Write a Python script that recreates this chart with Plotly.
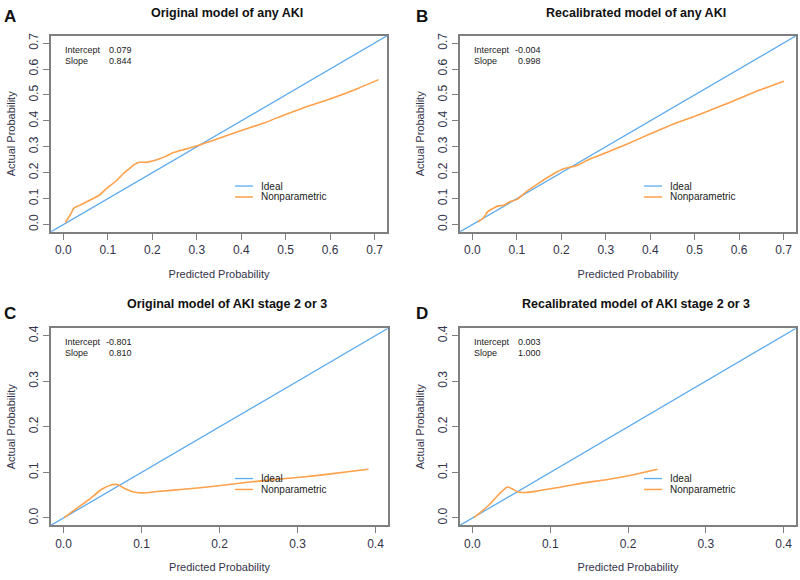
import plotly.graph_objects as go

# panel A: original model, any AKI
a_pred = [0.004, 0.015, 0.024, 0.037, 0.056, 0.082, 0.096, 0.119, 0.134, 0.148, 0.160, 0.171,
          0.186, 0.200, 0.215, 0.230, 0.245, 0.275, 0.301, 0.341, 0.397, 0.453, 0.497, 0.535,
          0.601, 0.661, 0.709]
a_act = [0.008, 0.036, 0.064, 0.074, 0.091, 0.115, 0.138, 0.169, 0.195, 0.215, 0.232, 0.240,
         0.240, 0.245, 0.253, 0.263, 0.276, 0.291, 0.304, 0.327, 0.361, 0.393, 0.423, 0.447,
         0.485, 0.524, 0.559]

# panel B: recalibrated model, any AKI
b_pred = [0.012, 0.025, 0.034, 0.048, 0.059, 0.070, 0.085, 0.100, 0.122, 0.152, 0.182, 0.205,
          0.234, 0.264, 0.302, 0.347, 0.399, 0.451, 0.511, 0.586, 0.645, 0.701]
b_act = [0.010, 0.026, 0.049, 0.064, 0.072, 0.074, 0.089, 0.097, 0.128, 0.163, 0.195, 0.215,
         0.227, 0.253, 0.278, 0.310, 0.349, 0.387, 0.425, 0.476, 0.518, 0.553]

# panel C: original model, AKI stage 2 or 3
c_pred = [0.001, 0.009, 0.021, 0.034, 0.049, 0.062, 0.070, 0.079, 0.090, 0.102, 0.120, 0.154,
          0.196, 0.239, 0.282, 0.324, 0.367, 0.391]
c_act = [0.001, 0.011, 0.026, 0.042, 0.063, 0.073, 0.073, 0.064, 0.057, 0.055, 0.058, 0.063,
         0.070, 0.079, 0.086, 0.093, 0.102, 0.107]

# panel D: recalibrated model, AKI stage 2 or 3
d_pred = [0.002, 0.010, 0.021, 0.034, 0.045, 0.051, 0.059, 0.068, 0.083, 0.100, 0.121, 0.143,
          0.172, 0.207, 0.238]
d_act = [0.001, 0.012, 0.028, 0.052, 0.068, 0.064, 0.057, 0.056, 0.059, 0.064, 0.070, 0.077,
         0.084, 0.095, 0.107]

titles = ["Original model of any AKI", "Recalibrated model of any AKI",
          "Original model of AKI stage 2 or 3", "Recalibrated model of AKI stage 2 or 3"]
letters = ["A", "B", "C", "D"]
intercepts = ["0.079", "-0.004", "-0.801", "0.003"]
slopes = ["0.844", "0.998", "0.810", "1.000"]
axis_max = [0.7, 0.7, 0.4, 0.4]
legend_names = ["Ideal", "Nonparametric"]

curves = [(a_pred, a_act), (b_pred, b_act), (c_pred, c_act), (d_pred, d_act)]

BLUE = "#5dabf0"
ORANGE = "#ffa04a"
GRAY = "#7f7f7f"
TXT = "#33334a"
FONT = "Liberation Sans, Arial, sans-serif"

W, H = 800, 580


def px(x):
    return x / W


def py(y):
    return 1 - y / H


# plot boxes in pixels: (left, right, top, bottom)
boxes = [(51, 387, 33, 230), (460, 796, 33, 230),
         (51, 388, 327, 525), (460, 796, 327, 525)]

fig = go.Figure()
annotations = []
shapes = []
layout = {}

for i in range(4):
    n = "" if i == 0 else str(i + 1)
    xa, ya = "x" + n, "y" + n
    l, r, t, b = boxes[i]
    m = axis_max[i]
    rng = [-0.04 * m, m * 1.04]

    fig.add_trace(go.Scatter(x=[-1, 2], y=[-1, 2], mode="lines", name="Ideal",
                             line=dict(color=BLUE, width=1.3), xaxis=xa, yaxis=ya,
                             showlegend=False, hoverinfo="skip"))
    fig.add_trace(go.Scatter(x=curves[i][0], y=curves[i][1], mode="lines", name="Nonparametric",
                             line=dict(color=ORANGE, width=1.6, shape="spline", smoothing=0.6),
                             xaxis=xa, yaxis=ya, showlegend=False))

    common = dict(range=rng, dtick=0.1, tick0=0, tickformat=".1f", showgrid=False, zeroline=False,
                  showline=True, linecolor=GRAY, linewidth=2, mirror=True,
                  ticks="outside", ticklen=6, tickcolor=GRAY, tickwidth=1,
                  tickfont=dict(family=FONT, size=12, color=TXT))
    layout["xaxis" + n] = dict(common, domain=[px(l), px(r)], anchor=ya,
                               title=dict(text="Predicted Probability", standoff=14,
                                          font=dict(family=FONT, size=11, color=TXT)))
    layout["yaxis" + n] = dict(common, domain=[py(b), py(t)], anchor=xa, tickangle=-90,
                               title=dict(text="Actual Probability", standoff=9,
                                          font=dict(family=FONT, size=11, color=TXT)))

    # legend drawn by hand (plotly legend rows are too tall)
    for k, (col, name) in enumerate(zip([BLUE, ORANGE], legend_names)):
        yy = t + 151 + k * 11
        shapes.append(dict(type="line", xref="paper", yref="paper",
                           x0=px(l + 184), x1=px(l + 202), y0=py(yy), y1=py(yy),
                           line=dict(color=col, width=1.5 if k else 1.3)))
        annotations.append(dict(text=name, x=px(l + 208), y=py(yy), xref="paper", yref="paper",
                                showarrow=False, xanchor="left", yanchor="middle",
                                font=dict(family=FONT, size=10, color="#222")))

    cx = 227 if i % 2 == 0 else 636
    ty = 10 if i < 2 else 303
    annotations.append(dict(text="<b>" + titles[i] + "</b>", x=px(cx), y=py(ty),
                            xref="paper", yref="paper", showarrow=False, xanchor="center",
                            yanchor="middle", font=dict(family=FONT, size=12.5, color="#111")))
    lx = 10 if i % 2 == 0 else 422
    ly = 14 if i < 2 else 312
    annotations.append(dict(text="<b>" + letters[i] + "</b>", x=px(lx), y=py(ly),
                            xref="paper", yref="paper", showarrow=False, xanchor="center",
                            yanchor="middle", font=dict(family=FONT, size=17, color="#111")))
    for k, (lab, val) in enumerate(zip(["Intercept", "Slope"], [intercepts[i], slopes[i]])):
        yy = t + 14 + k * 11
        annotations.append(dict(text=lab, x=px(l + 12), y=py(yy), xref="paper", yref="paper",
                                showarrow=False, xanchor="left", yanchor="middle",
                                font=dict(family=FONT, size=9, color="#222")))
        annotations.append(dict(text=val, x=px(l + 83), y=py(yy), xref="paper", yref="paper",
                                showarrow=False, xanchor="right", yanchor="middle",
                                font=dict(family=FONT, size=9, color="#222")))

fig.update_layout(width=W, height=H, margin=dict(l=0, r=0, t=0, b=0),
                  paper_bgcolor="white", plot_bgcolor="white",
                  annotations=annotations, shapes=shapes, **layout)

# drop the default page margin so the figure sits at the window corner
fig.write_html("out.html", config={"displayModeBar": False},
               post_script="document.body.style.margin='0';document.body.style.overflow='hidden';")
